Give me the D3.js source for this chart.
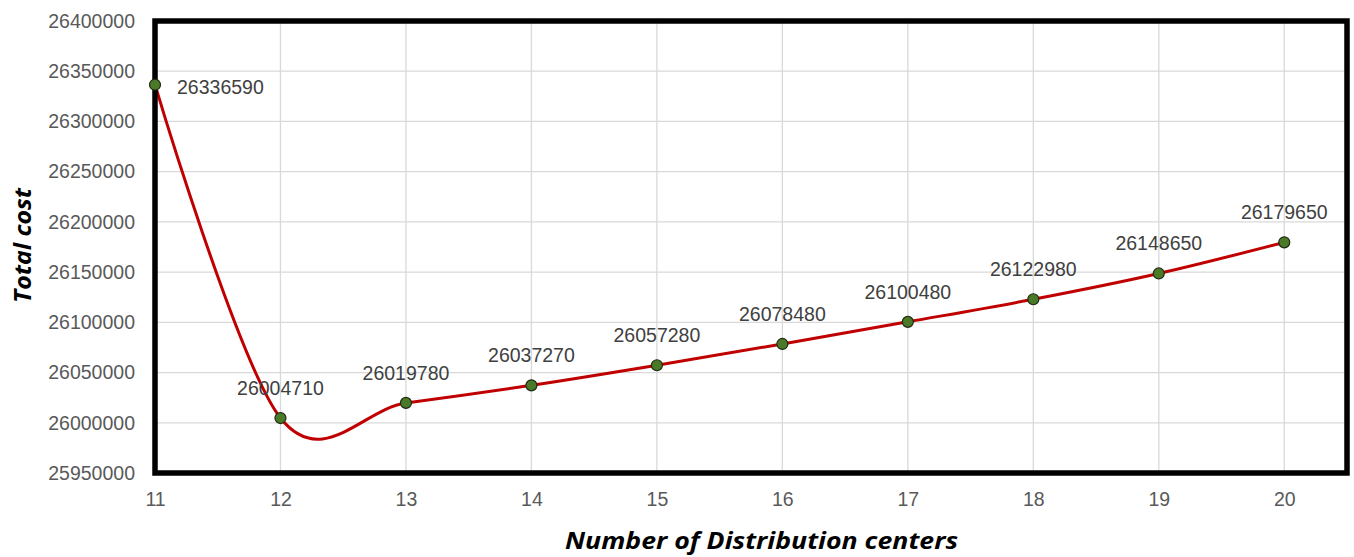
<!DOCTYPE html>
<html>
<head>
<meta charset="utf-8">
<script src="https://cdn.jsdelivr.net/npm/d3@7"></script>
<style>
  html, body { margin: 0; padding: 0; background: #fff; }
  svg { display: block; }
</style>
</head>
<body>
<svg id="chart" width="1354" height="557"></svg>
<script>
// Number of distribution centers and the total cost for each
const centers = [11, 12, 13, 14, 15, 16, 17, 18, 19, 20];
const totalCost = [26336590, 26004710, 26019780, 26037270, 26057280, 26078480, 26100480, 26122980, 26148650, 26179650];
const yTicks = [25950000, 26000000, 26050000, 26100000, 26150000, 26200000, 26250000, 26300000, 26350000, 26400000];
const xTicks = [11, 12, 13, 14, 15, 16, 17, 18, 19, 20];

const data = centers.map((c, i) => ({ x: c, y: totalCost[i] }));

const svg = d3.select("#chart");
const plot = { left: 155, right: 1347, top: 21, bottom: 473 };

const x = d3.scaleLinear().domain([11, 20.5]).range([plot.left, plot.right]);
const y = d3.scaleLinear().domain([25950000, 26400000]).range([plot.bottom, plot.top]);

const tickFont = "'Liberation Sans', Arial, sans-serif";
const titleFont = "'Open Sans', 'Noto Sans', sans-serif";

// Gridlines
const grid = svg.append("g").attr("class", "grid");
grid.selectAll("line.h").data(yTicks).join("line")
  .attr("x1", plot.left).attr("x2", plot.right)
  .attr("y1", d => y(d)).attr("y2", d => y(d))
  .attr("stroke", "#d9d9d9").attr("stroke-width", 1.3);
grid.selectAll("line.v").data(xTicks).join("line")
  .attr("y1", plot.top).attr("y2", plot.bottom)
  .attr("x1", d => x(d)).attr("x2", d => x(d))
  .attr("stroke", "#d9d9d9").attr("stroke-width", 1.3);

// Axes (labels only; the frame provides the axis lines)
const yAxis = svg.append("g")
  .attr("transform", `translate(${plot.left},0)`)
  .call(d3.axisLeft(y).tickValues(yTicks).tickSize(0).tickPadding(20).tickFormat(d3.format("d")));
yAxis.select(".domain").remove();
yAxis.selectAll("text")
  .attr("font-family", tickFont).attr("font-size", 19.5).attr("fill", "#595959");

const xAxis = svg.append("g")
  .attr("transform", `translate(0,${plot.bottom})`)
  .call(d3.axisBottom(x).tickValues(xTicks).tickSize(0).tickPadding(19).tickFormat(d3.format("d")));
xAxis.select(".domain").remove();
xAxis.selectAll("text")
  .attr("font-family", tickFont).attr("font-size", 19.5).attr("fill", "#595959");

// Smoothed cost line
const line = d3.line()
  .x(d => x(d.x)).y(d => y(d.y))
  .curve(d3.curveCardinal.tension(0));
svg.append("path")
  .datum(data)
  .attr("d", line)
  .attr("fill", "none")
  .attr("stroke", "#c00000")
  .attr("stroke-width", 3);

// Plot frame
svg.append("rect")
  .attr("x", plot.left).attr("y", plot.top)
  .attr("width", plot.right - plot.left).attr("height", plot.bottom - plot.top)
  .attr("fill", "none").attr("stroke", "#000").attr("stroke-width", 5.5);

// Markers
svg.append("g").selectAll("circle").data(data).join("circle")
  .attr("cx", d => x(d.x)).attr("cy", d => y(d.y)).attr("r", 5.5)
  .attr("fill", "#4a7a28").attr("stroke", "#1e2a12").attr("stroke-width", 1.2);

// Value labels
svg.append("g").selectAll("text").data(data).join("text")
  .attr("x", (d, i) => i === 0 ? x(d.x) + 22 : x(d.x))
  .attr("y", (d, i) => i === 0 ? y(d.y) + 9.5 : y(d.y) - 23)
  .attr("text-anchor", (d, i) => i === 0 ? "start" : "middle")
  .attr("font-family", tickFont).attr("font-size", 19.5).attr("fill", "#404040")
  .text(d => d3.format("d")(d.y));

// Axis titles
svg.append("text")
  .attr("x", 565).attr("y", 549)
  .attr("textLength", 393).attr("lengthAdjust", "spacingAndGlyphs")
  .attr("font-family", titleFont).attr("font-size", 23)
  .attr("font-weight", "bold").attr("font-style", "italic")
  .attr("fill", "#000")
  .text("Number of Distribution centers");

svg.append("text")
  .attr("transform", `translate(31,303) rotate(-90)`)
  .attr("textLength", 115).attr("lengthAdjust", "spacingAndGlyphs")
  .attr("font-family", titleFont).attr("font-size", 23)
  .attr("font-weight", "bold").attr("font-style", "italic")
  .attr("fill", "#000")
  .text("Total cost");
</script>
</body>
</html>
